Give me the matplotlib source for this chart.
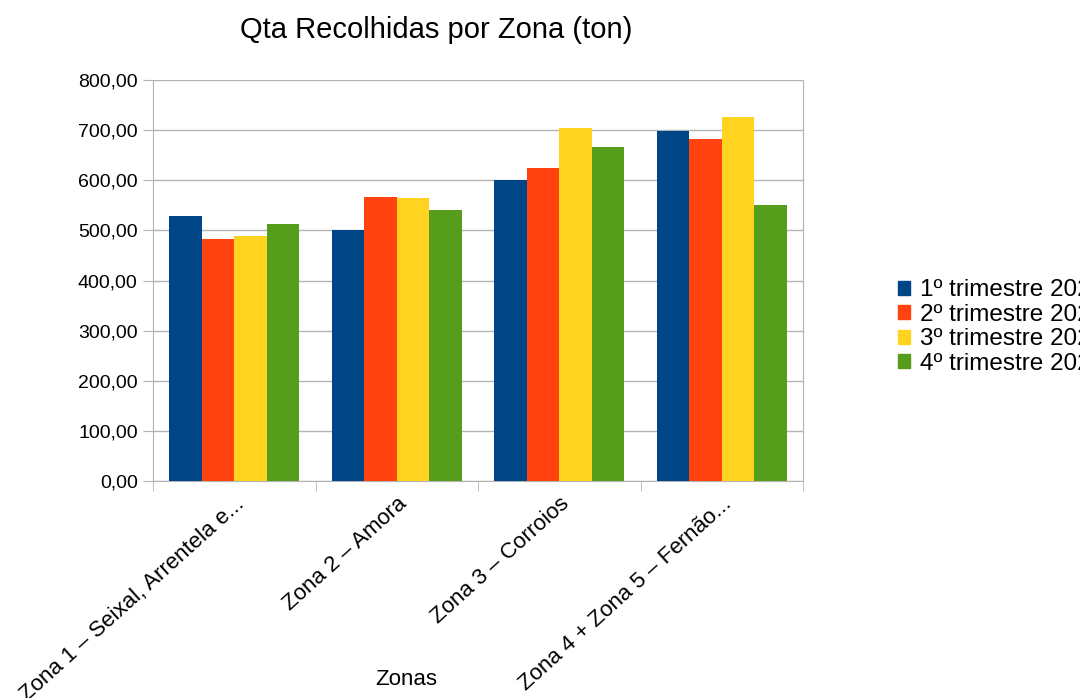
import matplotlib
matplotlib.use("Agg")
import matplotlib.pyplot as plt
from matplotlib.patches import Patch
from matplotlib.ticker import FuncFormatter
import numpy as np

plt.rcParams['font.family'] = ['Liberation Sans', 'DejaVu Sans']

# dados
zonas = ['Zona 1 – Seixal, Arrentela e...', 'Zona 2 – Amora',
         'Zona 3 – Corroios', 'Zona 4 + Zona 5 – Fernão...']
trimestres = ['1º trimestre 2021', '2º trimestre 2021',
              '3º trimestre 2021', '4º trimestre 2021']
t1 = [528, 500, 600, 699]
t2 = [483, 567, 625, 682]
t3 = [488, 565, 705, 726]
t4 = [513, 541, 666, 551]
cores = ['#004586', '#ff420e', '#ffd320', '#579d1c']

fig = plt.figure(figsize=(10.8, 6.98), dpi=100)
ax = fig.add_axes([153/1080, 1 - 481/698, 650/1080, 401/698])

x = np.arange(len(zonas))
w = 0.2
for i, (vals, c) in enumerate(zip([t1, t2, t3, t4], cores)):
    ax.bar(x + (i - 1.5) * w, vals, width=w, color=c, zorder=3)

ax.set_xlim(-0.5, 3.5)
ax.set_ylim(0, 800)
ax.set_yticks(np.arange(0, 801, 100))
ax.yaxis.set_major_formatter(FuncFormatter(lambda v, p: f"{v:.2f}".replace('.', ',')))
ax.grid(axis='y', color='#b3b3b3', linewidth=1, zorder=0)

ax.set_xticks(x)
ax.set_xticklabels(zonas, rotation=42, ha='right', rotation_mode='anchor')
ax.set_xticks(np.arange(-0.5, 3.6, 1), minor=True)
ax.tick_params(axis='x', which='major', length=0, pad=9, labelsize=16)
ax.tick_params(axis='x', which='minor', length=7, color='#b3b3b3')
ax.tick_params(axis='y', length=7, color='#b3b3b3', labelsize=14, pad=4)

for s in ['left', 'bottom', 'right']:
    ax.spines[s].set_color('#b3b3b3')
ax.spines['top'].set_visible(False)

ax.set_xlabel('Zonas', fontsize=16)
ax.xaxis.set_label_coords(0.39, -0.47)
fig.text(436/1080, 1 - 30/698, 'Qta Recolhidas por Zona (ton)', fontsize=21,
         ha='center', va='center')

handles = [Patch(color=c) for c in cores]
fig.legend(handles, trimestres, loc='center left',
           bbox_to_anchor=(876/1080, 1 - 327/698), frameon=False,
           fontsize=17.5, handlelength=0.5, handleheight=0.5,
           handletextpad=0.4, labelspacing=0.1)

fig.savefig('out.png', dpi=100)
